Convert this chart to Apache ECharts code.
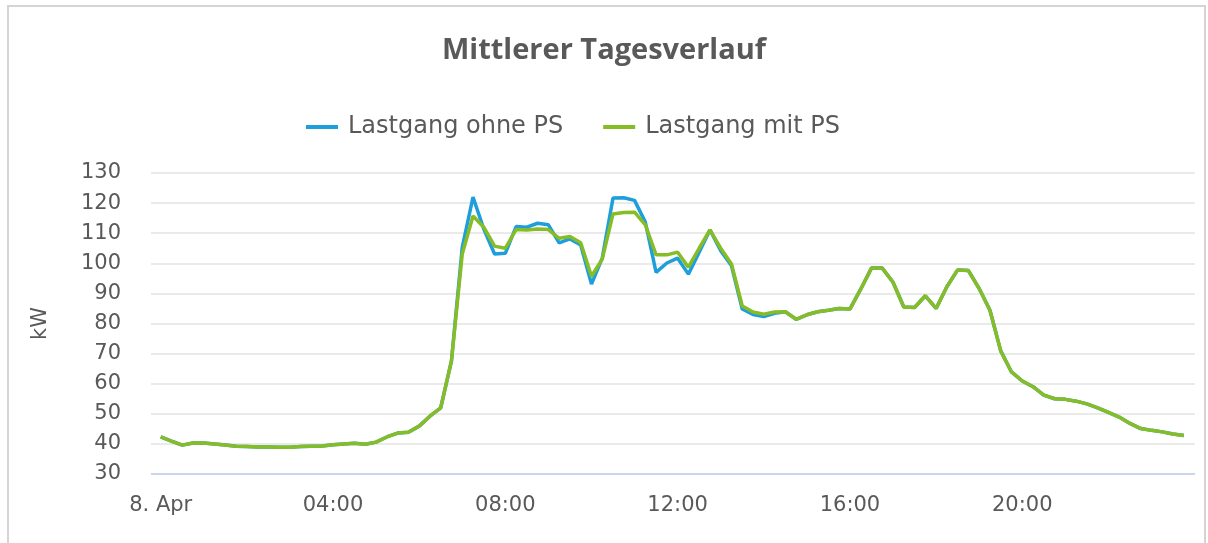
<!DOCTYPE html>
<html>
<head>
<meta charset="utf-8">
<title>Mittlerer Tagesverlauf</title>
<script src="https://cdn.jsdelivr.net/npm/echarts@6/dist/echarts.min.js"></script>
<style>
    html, body { margin: 0; padding: 0; background: #fff; }
    #chart-container { width: 1208px; height: 543px; }
</style>
</head>
<body>
<div id="chart-container"></div>
<script>
// Viertelstundenwerte 00:00 .. 23:45 (Index = Viertelstunde)
const lastgangOhnePS = [
    42.3, 40.9, 39.6, 40.3, 40.3, 40.0, 39.6, 39.2, 39.1, 39.0, 39.0, 38.9,
    38.9, 39.1, 39.2, 39.3, 39.7, 40.0, 40.2, 39.9, 40.6, 42.3, 43.6, 43.9,
    45.9, 49.2, 52.0, 67.6, 105.3, 122.0, 111.4, 103.1, 103.3, 112.2, 112.0, 113.3,
    112.8, 106.8, 108.1, 106.1, 93.1, 101.7, 121.7, 121.8, 120.9, 113.7, 97.0, 100.1,
    101.7, 96.4, 103.7, 111.1, 104.2, 99.2, 84.8, 83.0, 82.3, 83.4, 83.9, 81.4,
    82.9, 83.9, 84.4, 85.0, 84.8, 91.4, 98.4, 98.4, 93.7, 85.5, 85.3, 89.2,
    85.0, 92.2, 97.8, 97.6, 91.6, 84.4, 70.9, 63.9, 60.9, 59.0, 56.2, 55.0,
    54.8, 54.2, 53.3, 52.0, 50.5, 48.9, 46.8, 45.1, 44.5, 44.0, 43.3, 42.8
];
const lastgangMitPS = [
    42.3, 40.9, 39.6, 40.3, 40.3, 40.0, 39.6, 39.2, 39.1, 39.0, 39.0, 38.9,
    38.9, 39.1, 39.2, 39.3, 39.7, 40.0, 40.2, 39.9, 40.6, 42.3, 43.6, 43.9,
    45.9, 49.2, 52.0, 67.6, 103.1, 115.7, 112.0, 105.7, 105.0, 111.2, 111.1, 111.4,
    111.2, 108.3, 108.9, 106.8, 95.7, 101.4, 116.4, 116.9, 117.0, 112.8, 102.8, 102.8,
    103.7, 98.7, 105.0, 111.1, 105.0, 99.8, 85.8, 83.8, 83.1, 83.8, 83.9, 81.4,
    82.9, 83.9, 84.4, 85.0, 84.8, 91.4, 98.4, 98.4, 93.7, 85.5, 85.3, 89.2,
    85.0, 92.2, 97.8, 97.6, 91.6, 84.4, 70.9, 63.9, 60.9, 59.0, 56.2, 55.0,
    54.8, 54.2, 53.3, 52.0, 50.5, 48.9, 46.8, 45.1, 44.5, 44.0, 43.3, 42.8
];
// Achsenbeschriftung x (Position in Viertelstunden)
const xTickPositions = [0, 16, 32, 48, 64, 80];
const xTickLabels = ['8. Apr', '04:00', '08:00', '12:00', '16:00', '20:00'];
// y-Achse
const yMin = 30;
const yMax = 130;
const yStep = 10;

const textColor = '#595959';
const labelFont = 'DejaVu Sans';

(function () {
    const myChart = echarts.init(document.getElementById('chart-container'), null, { renderer: 'canvas' });

    const toPairs = arr => arr.map((v, i) => [i, v]);

    const option = {
        backgroundColor: '#ffffff',
        animation: false,
        title: {
            text: 'Mittlerer Tagesverlauf',
            left: 'center',
            top: 31,
            textStyle: {
                fontFamily: 'Open Sans',
                fontWeight: 'bold',
                fontSize: 29,
                color: textColor,
            },
        },
        legend: {
            left: 301,
            top: 110,
            icon: 'rect',
            itemWidth: 32,
            itemHeight: 4,
            itemGap: 40,
            textStyle: {
                fontFamily: labelFont,
                fontSize: 24,
                color: textColor,
                padding: [0, 0, 0, 5],
            },
            data: ['Lastgang ohne PS', 'Lastgang mit PS'],
        },
        graphic: [
            {
                type: 'rect',
                silent: true,
                shape: { x: 8, y: 6, width: 1197, height: 600 },
                style: { fill: 'none', stroke: '#d4d4d4', lineWidth: 2 },
            },
        ],
        grid: {
            left: 151,
            right: 13,
            top: 173,
            bottom: 69,
            containLabel: false,
        },
        xAxis: {
            type: 'value',
            min: -0.9,
            max: 96.04,
            splitLine: { show: false },
            axisTick: { show: false },
            axisLine: { show: false },
            axisLabel: {
                customValues: xTickPositions,
                formatter: function (value) {
                    const idx = xTickPositions.indexOf(value);
                    return idx === -1 ? '' : xTickLabels[idx];
                },
                fontFamily: labelFont,
                fontSize: 21,
                color: textColor,
                margin: 21,
            },
        },
        yAxis: {
            type: 'value',
            min: yMin,
            max: yMax,
            interval: yStep,
            name: 'kW',
            nameLocation: 'middle',
            nameGap: 100,
            nameRotate: 90,
            nameTextStyle: {
                fontFamily: labelFont,
                fontSize: 21,
                color: textColor,
            },
            axisLine: { show: false },
            axisTick: { show: false },
            axisLabel: {
                fontFamily: labelFont,
                fontSize: 21,
                color: textColor,
                margin: 30,
            },
            splitLine: {
                lineStyle: { color: '#e3e3e3', width: 1.5 },
            },
        },
        series: [
            {
                name: 'Lastgang ohne PS',
                type: 'line',
                data: toPairs(lastgangOhnePS),
                showSymbol: false,
                color: '#1e9fdb',
                lineStyle: { width: 3.5, color: '#1e9fdb' },
                markLine: {
                    silent: true,
                    symbol: 'none',
                    label: { show: false },
                    lineStyle: { color: '#ccd6eb', width: 2, type: 'solid' },
                    data: [{ yAxis: yMin }],
                },
            },
            {
                name: 'Lastgang mit PS',
                type: 'line',
                data: toPairs(lastgangMitPS),
                showSymbol: false,
                color: '#86bc25',
                lineStyle: { width: 3.5, color: '#86bc25' },
            },
        ],
    };

    myChart.setOption(option);
})();
</script>
</body>
</html>
